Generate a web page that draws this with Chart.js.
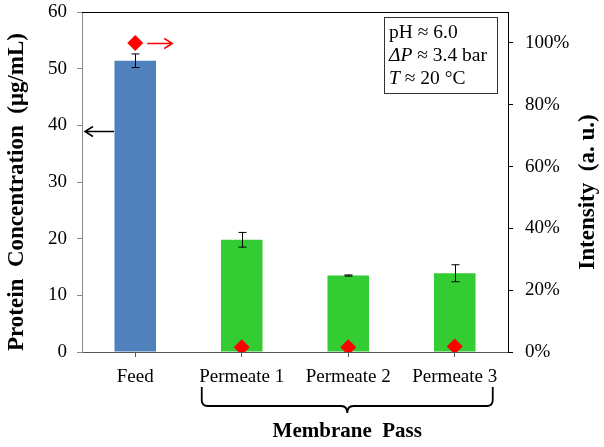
<!DOCTYPE html>
<html><head><meta charset="utf-8">
<script src="https://cdn.jsdelivr.net/npm/chart.js@4/dist/chart.umd.min.js"></script>
<style>html,body{margin:0;padding:0;background:#fff}</style>
</head><body>
<canvas id="c" width="604" height="447" style="display:block;width:604px;height:447px"></canvas>
<script>
const categories = ['Feed', 'Permeate 1', 'Permeate 2', 'Permeate 3'];
const concentration = [51.4, 19.8, 13.5, 13.9];
const concentrationError = [1.2, 1.3, 0.1, 1.5];
const intensity = [100, 1.5, 1.5, 1.8];
const barColors = ['#4F81BD', '#33CC33', '#33CC33', '#33CC33'];
const leftAxisTitle = 'Protein  Concentration  (\u03BCg/mL)';
const rightAxisTitle = 'Intensity  (a. u.)';
const bottomTitle = 'Membrane  Pass';
const conditionLines = [
  [['pH \u2248 6.0', false]],
  [['\u0394P', true], [' \u2248 3.4 bar', false]],
  [['T', true], [' \u2248 20 \u00B0C', false]]
];
const SERIF = '"Liberation Serif", "Times New Roman", serif';

const decor = {
  id: 'decor',
  afterDatasetsDraw(chart) {
    const ctx = chart.ctx;
    const xs = chart.scales.x, ys = chart.scales.y, y2 = chart.scales.y2;
    const area = chart.chartArea;
    const meta = chart.getDatasetMeta(1);
    ctx.save();
    // error bars
    ctx.strokeStyle = '#000'; ctx.lineWidth = 1;
    meta.data.forEach((bar, i) => {
      const x = Math.round(bar.x) + 0.5;
      const yt = ys.getPixelForValue(concentration[i] + concentrationError[i]);
      const yb = ys.getPixelForValue(concentration[i] - concentrationError[i]);
      ctx.beginPath();
      ctx.moveTo(x, yt); ctx.lineTo(x, yb);
      ctx.moveTo(x - 4, yt); ctx.lineTo(x + 4, yt);
      ctx.moveTo(x - 4, yb); ctx.lineTo(x + 4, yb);
      ctx.stroke();
    });
    // top border
    ctx.beginPath();
    ctx.moveTo(area.left, area.top + 0.5); ctx.lineTo(area.right, area.top + 0.5);
    ctx.stroke();
    // black arrow (points to left axis)
    const ay = Math.round(ys.getPixelForValue(39)) + 0.5;
    const ax0 = area.left + 3, ax1 = area.left + 32;
    ctx.strokeStyle = '#000'; ctx.lineWidth = 1.5;
    ctx.beginPath();
    ctx.moveTo(ax1, ay); ctx.lineTo(ax0, ay);
    ctx.moveTo(ax0 + 8, ay - 5); ctx.lineTo(ax0, ay); ctx.lineTo(ax0 + 8, ay + 5);
    ctx.stroke();
    // red arrow (points to right axis)
    const fx = xs.getPixelForValue(0);
    const ry = Math.round(y2.getPixelForValue(intensity[0])) + 0.5;
    const rx0 = fx + 12, rx1 = fx + 37;
    ctx.strokeStyle = '#FF0000';
    ctx.beginPath();
    ctx.moveTo(rx0, ry); ctx.lineTo(rx1, ry);
    ctx.moveTo(rx1 - 8, ry - 5); ctx.lineTo(rx1, ry); ctx.lineTo(rx1 - 8, ry + 5);
    ctx.stroke();
    // brace under permeates
    const bx0 = xs.getPixelForValue(1) - 40, bx1 = xs.getPixelForValue(3) + 38;
    const bm = (bx0 + bx1) / 2;
    const byTop = 387, byLine = 406, byTip = 413, r = 6;
    ctx.strokeStyle = '#000'; ctx.lineWidth = 1.8;
    ctx.beginPath();
    ctx.moveTo(bx0, byTop);
    ctx.lineTo(bx0, byLine - r);
    ctx.quadraticCurveTo(bx0, byLine, bx0 + r, byLine);
    ctx.lineTo(bm - r, byLine);
    ctx.quadraticCurveTo(bm, byLine, bm, byTip);
    ctx.quadraticCurveTo(bm, byLine, bm + r, byLine);
    ctx.lineTo(bx1 - r, byLine);
    ctx.quadraticCurveTo(bx1, byLine, bx1, byLine - r);
    ctx.lineTo(bx1, byTop);
    ctx.stroke();
    // bottom title
    ctx.fillStyle = '#000';
    ctx.font = 'bold 21px ' + SERIF;
    ctx.textAlign = 'center'; ctx.textBaseline = 'middle';
    ctx.fillText(bottomTitle, bm, 432);
    // axis titles
    ctx.font = 'bold 23px ' + SERIF;
    ctx.save();
    ctx.translate(17, 192);
    ctx.rotate(-Math.PI / 2);
    ctx.fillText(leftAxisTitle, 0, 0);
    ctx.restore();
    ctx.save();
    ctx.translate(588, 192);
    ctx.rotate(-Math.PI / 2);
    ctx.fillText(rightAxisTitle, 0, 0);
    ctx.restore();
    // conditions box
    const bxr = area.right - 11, bxl = bxr - 113, bxt = area.top + 5, bxb = bxt + 76;
    ctx.fillStyle = '#fff';
    ctx.fillRect(bxl, bxt, bxr - bxl, bxb - bxt);
    ctx.strokeStyle = '#333'; ctx.lineWidth = 1;
    ctx.strokeRect(bxl + 0.5, bxt + 0.5, bxr - bxl, bxb - bxt);
    ctx.fillStyle = '#000';
    ctx.textAlign = 'left'; ctx.textBaseline = 'alphabetic';
    conditionLines.forEach((parts, i) => {
      let x = bxl + 5;
      const y = bxt + 21 + i * 23;
      parts.forEach(([t, it]) => {
        ctx.font = (it ? 'italic ' : '') + '19.5px ' + SERIF;
        ctx.fillText(t, x, y);
        x += ctx.measureText(t).width;
      });
    });
    ctx.restore();
  }
};

function fixVertical(width) {
  return function (s) { s.width = width; s.paddingTop = 0; s.paddingBottom = 0; };
}

new Chart(document.getElementById('c'), {
  data: {
    labels: categories,
    datasets: [
      {
        type: 'line', label: 'Intensity', data: intensity, yAxisID: 'y2',
        showLine: false, pointStyle: 'rectRot', pointRadius: 8,
        backgroundColor: '#FF0000', borderColor: '#FF0000', borderWidth: 0, order: 0
      },
      {
        type: 'bar', label: 'Protein Concentration', data: concentration, yAxisID: 'y',
        backgroundColor: barColors, borderWidth: 0,
        barPercentage: 0.39, categoryPercentage: 1, order: 1
      }
    ]
  },
  options: {
    responsive: false, animation: false,
    layout: { padding: { top: 12, left: 0, right: 0, bottom: 0 } },
    plugins: { legend: { display: false }, tooltip: { enabled: false } },
    scales: {
      x: {
        type: 'category', position: 'bottom',
        grid: { display: true, drawOnChartArea: false, offset: false, tickLength: 5, color: '#555' },
        border: { display: true, color: '#555', width: 1 },
        ticks: { color: '#000', font: { family: SERIF, size: 19 }, padding: 9, maxRotation: 0 },
        afterFit(s) { s.height = 95; s.paddingLeft = 0; s.paddingRight = 0; }
      },
      y: {
        position: 'left', min: 0, max: 60,
        ticks: { stepSize: 10, color: '#000', font: { family: SERIF, size: 19 }, padding: 10 },
        grid: { display: true, drawOnChartArea: false, tickLength: 5, color: '#888' },
        border: { display: true, color: '#888', width: 1 },
        afterFit: fixVertical(82)
      },
      y2: {
        position: 'right', min: 0, max: 110,
        ticks: { stepSize: 20, color: '#000', font: { family: SERIF, size: 19 }, padding: 12, callback: v => v + '%' },
        afterBuildTicks(s) { s.ticks = s.ticks.filter(t => t.value <= 100); },
        grid: { display: true, drawOnChartArea: false, tickLength: 5, color: '#000' },
        border: { display: true, color: '#000', width: 1 },
        afterFit: fixVertical(96)
      }
    }
  },
  plugins: [decor]
});
</script>
</body></html>
